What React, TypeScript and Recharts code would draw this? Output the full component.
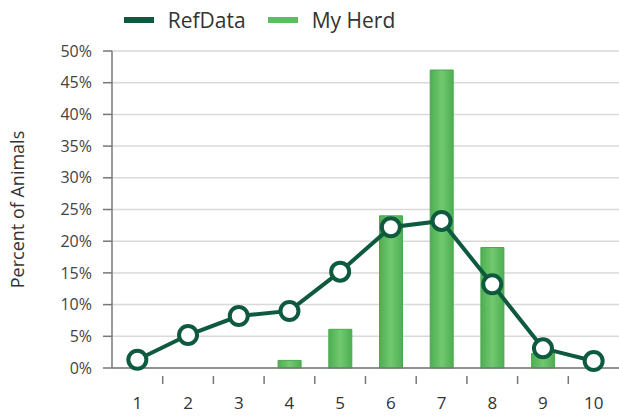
import { ComposedChart, Bar, Line, XAxis, YAxis, CartesianGrid, Legend } from 'recharts'

const categories = [1, 2, 3, 4, 5, 6, 7, 8, 9, 10]
const refData = [1.3, 5.2, 8.2, 9.0, 15.2, 22.2, 23.2, 13.2, 3.1, 1.1]
const myHerd = [0, 0, 0, 1.2, 6.1, 24, 47, 19, 2.3, 0]
const yTicks = [0, 5, 10, 15, 20, 25, 30, 35, 40, 45, 50]
const xTicks = [1, 1.5, 2, 2.5, 3, 3.5, 4, 4.5, 5, 5.5, 6, 6.5, 7, 7.5, 8, 8.5, 9, 9.5, 10]

const DARK = '#0e5a3f'
const LIGHT = '#5cbf5f'
const FONT = '"Open Sans", sans-serif'

const data = categories.map((c, i) => ({ cat: c, refValue: refData[i], herd: myHerd[i] }))

// integer ticks get a label, half-steps get only a tick mark
function XTick(props: any) {
  const { x, y, payload } = props
  const v = payload.value
  if (Number.isInteger(v)) {
    return (
      <text x={x} y={y + 33} textAnchor="middle" fontSize={17} fill="#333" fontFamily={FONT}>
        {v}
      </text>
    )
  }
  return <line x1={x} x2={x} y1={y} y2={y + 8} stroke="#777" strokeWidth={1.5} />
}

function LegendContent() {
  const items = [
    { label: 'RefData', color: DARK },
    { label: 'My Herd', color: LIGHT },
  ]
  return (
    <div style={{ display: 'flex', justifyContent: 'center', gap: 22, fontFamily: FONT, paddingRight: 100, paddingTop: 2 }}>
      {items.map((it) => (
        <div key={it.label} style={{ display: 'flex', alignItems: 'center' }}>
          <span style={{ display: 'inline-block', width: 30, height: 6, background: it.color, marginRight: 14 }} />
          <span style={{ fontSize: 21, color: '#333' }}>{it.label}</span>
        </div>
      ))}
    </div>
  )
}

export default function App() {
  return (
    <div style={{ position: 'absolute', left: 0, top: 0, background: '#fff' }}>
      <ComposedChart width={619} height={416} data={data} margin={{ top: 4, right: 0, left: 0, bottom: 0 }}>
        <defs>
          <linearGradient id="barGrad" x1="0" y1="0" x2="1" y2="0">
            <stop offset="0%" stopColor="#4caf52" />
            <stop offset="50%" stopColor="#72c96f" />
            <stop offset="100%" stopColor="#4caf52" />
          </linearGradient>
        </defs>
        <Legend verticalAlign="top" content={<LegendContent />} wrapperStyle={{ height: 47 }} />
        <CartesianGrid vertical={false} stroke="#d9d9d9" strokeWidth={1.5} />
        <XAxis
          dataKey="cat"
          type="number"
          domain={[0.5, 10.5]}
          ticks={xTicks}
          interval={0}
          height={48}
          tick={<XTick />}
          tickLine={false}
          axisLine={{ stroke: '#777', strokeWidth: 1.5 }}
        />
        <YAxis
          width={112}
          domain={[0, 50]}
          ticks={yTicks}
          tickFormatter={(v: number) => `${v}%`}
          tick={{ fontSize: 16, fill: '#444', fontFamily: FONT }}
          tickSize={9}
          tickMargin={11}
          tickLine={{ stroke: '#777', strokeWidth: 1.5 }}
          axisLine={{ stroke: '#777', strokeWidth: 1.5 }}
          label={{
            value: 'Percent of Animals',
            angle: -90,
            position: 'insideLeft',
            offset: 18,
            style: { textAnchor: 'middle', fontSize: 18, fill: '#333', fontFamily: FONT },
          }}
        />
        <Bar dataKey="herd" name="My Herd" barSize={23} fill="url(#barGrad)" stroke="#4aa84e" strokeWidth={1} isAnimationActive={false} />
        <Line
          dataKey="refValue"
          name="RefData"
          stroke={DARK}
          strokeWidth={4}
          dot={{ r: 9, fill: '#fff', stroke: DARK, strokeWidth: 4 }}
          isAnimationActive={false}
        />
      </ComposedChart>
    </div>
  )
}
